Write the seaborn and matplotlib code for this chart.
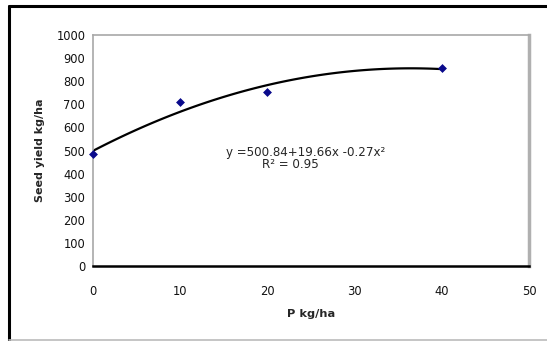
import numpy as np
import pandas as pd
import matplotlib
matplotlib.use("Agg")
import matplotlib.pyplot as plt
import seaborn as sns

# data
p_rate = [0, 10, 20, 40]
seed_yield = [483, 710, 752, 858]
x_ticks = [0, 10, 20, 30, 40, 50]
y_ticks = [0, 100, 200, 300, 400, 500, 600, 700, 800, 900, 1000]
equation = "y =500.84+19.66x -0.27x²"
r2_text = "R² = 0.95"

df = pd.DataFrame({"P kg/ha": p_rate, "Seed yield kg/ha": seed_yield})

sns.set_style("white")
plt.rcParams["font.family"] = ["DejaVu Sans"]

fig = plt.figure(figsize=(5.47, 3.41), dpi=100)
ax = fig.add_axes([0.170, 0.220, 0.797, 0.677])

# polynomial trend line (order 2) fitted by seaborn
sns.regplot(data=df, x="P kg/ha", y="Seed yield kg/ha", order=2, ci=None,
            scatter=False, truncate=True, ax=ax,
            line_kws=dict(color="black", lw=1.6))
sns.scatterplot(data=df, x="P kg/ha", y="Seed yield kg/ha", marker="D",
                s=16, color="#0a0a8c", edgecolor="#0a0a8c", linewidth=0.5,
                ax=ax, zorder=5, clip_on=False)

ax.set_xlim(0, 50)
ax.set_ylim(0, 1000)
ax.set_xticks(x_ticks)
ax.set_yticks(y_ticks)
ax.tick_params(axis="both", labelsize=8.3, length=3.5, width=0.8,
               color="black", labelcolor="#111111")
ax.tick_params(axis="x", pad=10)
ax.tick_params(axis="y", pad=2)

ax.set_xlabel("P kg/ha", fontsize=8.2, fontweight="bold", labelpad=8)
ax.set_ylabel("Seed yield kg/ha", fontsize=8, fontweight="bold", labelpad=8)

for side in ["left", "top"]:
    ax.spines[side].set_color("#a8a8a8")
    ax.spines[side].set_linewidth(1.2)
ax.spines["right"].set_color("#b0b0b0")
ax.spines["right"].set_linewidth(2.5)
ax.spines["bottom"].set_color("black")
ax.spines["bottom"].set_linewidth(1.8)

ax.text(24.4, 493, equation, ha="center", va="center", fontsize=8.6)
ax.text(22.6, 440, r2_text, ha="center", va="center", fontsize=8.6)

# outer chart frame
fig.add_artist(plt.Line2D([8.5 / 547, 8.5 / 547], [0, 1 - 6 / 341],
                          transform=fig.transFigure, color="black", lw=2.2))
fig.add_artist(plt.Line2D([8.5 / 547, 1], [1 - 6 / 341, 1 - 6 / 341],
                          transform=fig.transFigure, color="black", lw=2.2))
fig.add_artist(plt.Line2D([8.5 / 547, 1], [1.5 / 341, 1.5 / 341],
                          transform=fig.transFigure, color="#bbbbbb", lw=1.2))

fig.savefig("out.png", dpi=100, facecolor="white")
